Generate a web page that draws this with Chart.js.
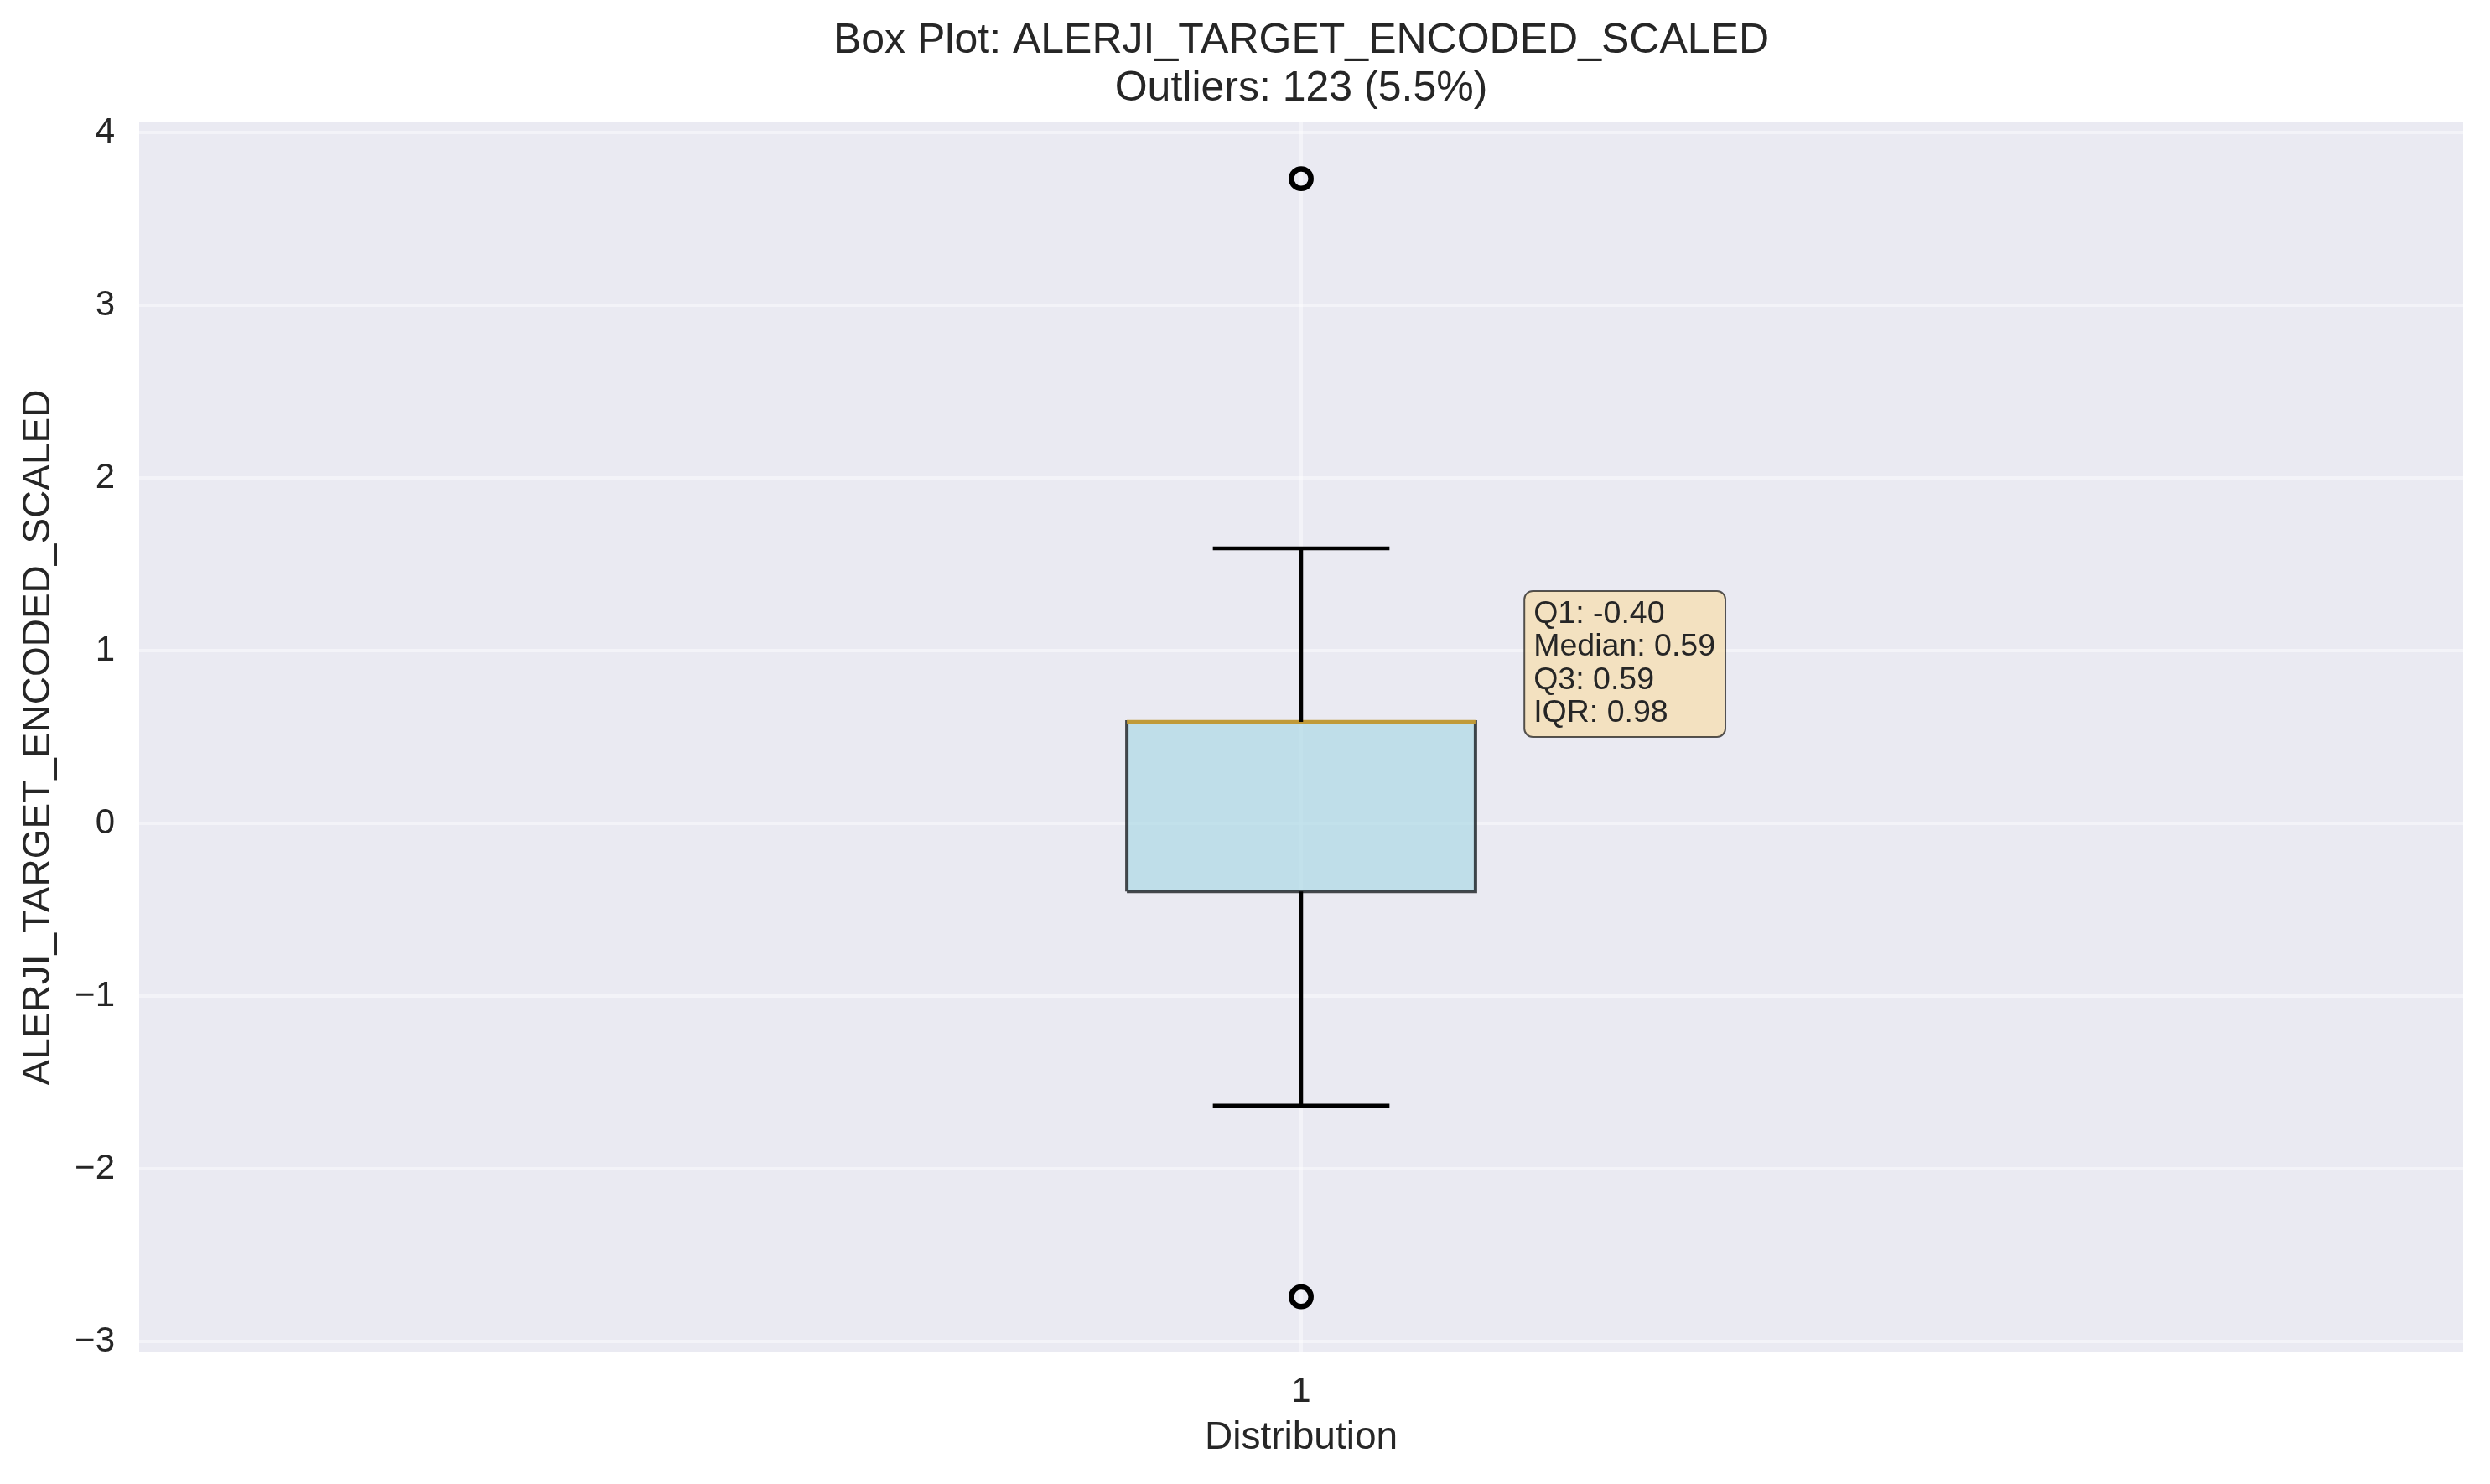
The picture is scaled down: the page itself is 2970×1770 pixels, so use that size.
<!DOCTYPE html>
<html><head><meta charset="utf-8">
<script src="https://cdn.jsdelivr.net/npm/chart.js@4.4.1/dist/chart.umd.min.js"></script>
<style>html,body{margin:0;padding:0;background:#fff;}#wrap{width:2970px;height:1770px;}</style>
</head><body><div id="wrap"><canvas id="c" width="2970" height="1770"></canvas></div>
<script>
// ---- data ----
const categories = ['1'];
const categoryPositions = [1];
const q1Values = [-0.395];
const medianValues = [0.587];
const q3Values = [0.587];
const lowerWhiskers = [-1.635];
const upperWhiskers = [1.592];
const outlierValues = [3.732, -2.741];
const yTickValues = [-3, -2, -1, 0, 1, 2, 3, 4];
const titleLines = ['Box Plot: ALERJI_TARGET_ENCODED_SCALED', 'Outliers: 123 (5.5%)'];
const statLines = ['Q1: -0.40', 'Median: 0.59', 'Q3: 0.59', 'IQR: 0.98'];
const yAxisTitle = 'ALERJI_TARGET_ENCODED_SCALED';
const xAxisTitle = 'Distribution';

// ---- geometry/style (not data) ----
const BOX_HALF = 0.075, CAP_HALF = 0.038;
const FONT = '"Liberation Sans", Arial, sans-serif';
const TXT = '#262626';

const boxPts = [], medPts = [], whiskPts = [], capPts = [], outPts = [];
categoryPositions.forEach((x, i) => {
  const q1 = q1Values[i], q3 = q3Values[i];
  boxPts.push({x: x - BOX_HALF, y: q1}, {x: x + BOX_HALF, y: q1}, {x: x + BOX_HALF, y: q3}, {x: x - BOX_HALF, y: q3}, {x: x - BOX_HALF, y: q1});
  medPts.push({x: x - BOX_HALF, y: medianValues[i]}, {x: x + BOX_HALF, y: medianValues[i]});
  whiskPts.push({x: x, y: q1}, {x: x, y: lowerWhiskers[i]}, {x: x, y: null}, {x: x, y: q3}, {x: x, y: upperWhiskers[i]});
  capPts.push({x: x - CAP_HALF, y: lowerWhiskers[i]}, {x: x + CAP_HALF, y: lowerWhiskers[i]}, {x: x, y: null},
              {x: x - CAP_HALF, y: upperWhiskers[i]}, {x: x + CAP_HALF, y: upperWhiskers[i]});
  outlierValues.forEach(v => outPts.push({x: x, y: v}));
});

const bgPlugin = {
  id: 'bg',
  beforeDraw(chart) {
    const {ctx, chartArea: a} = chart;
    ctx.save();
    ctx.fillStyle = '#ffffff';
    ctx.fillRect(0, 0, chart.width, chart.height);
    ctx.fillStyle = '#eaeaf2';
    ctx.fillRect(a.left, a.top, a.right - a.left, a.bottom - a.top);
    ctx.restore();
  }
};

const titlePlugin = {
  id: 'mtitle',
  afterDraw(chart) {
    const {ctx, chartArea: a} = chart;
    ctx.save();
    ctx.font = '50px ' + FONT;
    ctx.fillStyle = TXT;
    ctx.textAlign = 'center';
    ctx.textBaseline = 'alphabetic';
    const cx = (a.left + a.right) / 2;
    ctx.fillText(titleLines[0], cx, a.top - 83);
    ctx.fillText(titleLines[1], cx, a.top - 26);
    ctx.restore();
  }
};

const statsPlugin = {
  id: 'stats',
  afterDatasetsDraw(chart) {
    const {ctx, scales: {x, y}} = chart;
    const tx = x.getPixelForValue(1.1);
    const top = y.getPixelForValue(1.345);
    ctx.save();
    ctx.font = '37.5px ' + FONT;
    let w = 0;
    statLines.forEach(s => { w = Math.max(w, ctx.measureText(s).width); });
    const left = tx - 11, right = tx + w + 12, bottom = top + 174;
    const r = 10;
    ctx.beginPath();
    ctx.moveTo(left + r, top);
    ctx.lineTo(right - r, top);
    ctx.arcTo(right, top, right, top + r, r);
    ctx.lineTo(right, bottom - r);
    ctx.arcTo(right, bottom, right - r, bottom, r);
    ctx.lineTo(left + r, bottom);
    ctx.arcTo(left, bottom, left, bottom - r, r);
    ctx.lineTo(left, top + r);
    ctx.arcTo(left, top, left + r, top, r);
    ctx.closePath();
    ctx.fillStyle = 'rgba(245,222,179,0.8)';
    ctx.fill();
    ctx.lineWidth = 2;
    ctx.strokeStyle = 'rgba(0,0,0,0.65)';
    ctx.stroke();
    ctx.fillStyle = TXT;
    ctx.textAlign = 'left';
    ctx.textBaseline = 'alphabetic';
    statLines.forEach((s, i) => ctx.fillText(s, tx, top + 38 + i * 39.5));
    ctx.restore();
  }
};

const gridColor = 'rgba(255,255,255,0.45)';

new Chart(document.getElementById('c'), {
  type: 'line',
  data: {
    datasets: [
      {label: 'outliers', data: outPts, showLine: false, pointRadius: 11.7, pointHoverRadius: 11.7,
       pointBorderWidth: 6.5, pointBorderColor: '#000', pointBackgroundColor: 'rgba(0,0,0,0)', order: 0},
      {label: 'whiskers', data: whiskPts, borderColor: '#000', borderWidth: 4.5, pointRadius: 0, spanGaps: false, order: 1},
      {label: 'caps', data: capPts, borderColor: '#000', borderWidth: 4.5, pointRadius: 0, spanGaps: false, order: 1},
      {label: 'median', data: medPts, borderColor: '#c09a38', borderWidth: 4.5, pointRadius: 0, order: 2},
      {label: 'box', data: boxPts, borderColor: 'rgba(20,24,28,0.78)', borderWidth: 4, pointRadius: 0,
       backgroundColor: 'rgba(173,216,230,0.7)', fill: 'shape', tension: 0, order: 3}
    ]
  },
  options: {
    responsive: false,
    animation: false,
    devicePixelRatio: 1,
    layout: {padding: {top: 146, right: 32, bottom: 0, left: 0}},
    plugins: {legend: {display: false}, tooltip: {enabled: false}, title: {display: false}},
    scales: {
      x: {
        type: 'linear', min: 0.5, max: 1.5,
        afterBuildTicks: s => { s.ticks = categoryPositions.map(v => ({value: v})); },
        afterFit: s => { s.height = 157; },
        ticks: {callback: (v) => { const i = categoryPositions.indexOf(v); return i >= 0 ? categories[i] : ''; },
                font: {family: FONT, size: 42}, color: TXT, padding: 22, maxRotation: 0},
        grid: {color: gridColor, lineWidth: 4, drawTicks: false},
        border: {display: false},
        title: {display: true, text: xAxisTitle, font: {family: FONT, size: 46}, color: TXT, padding: {top: 0, bottom: 27}}
      },
      y: {
        type: 'linear', min: -3.063, max: 4.058,
        afterBuildTicks: s => { s.ticks = yTickValues.map(v => ({value: v})); },
        afterFit: s => { s.width = 166; },
        ticks: {callback: v => String(v).replace('-', '\u2212'), font: {family: FONT, size: 42}, color: TXT, padding: 29},
        grid: {color: gridColor, lineWidth: 4, drawTicks: false},
        border: {display: false},
        title: {display: true, text: yAxisTitle, font: {family: FONT, size: 46}, color: TXT, padding: {top: 19, bottom: 0}}
      }
    }
  },
  plugins: [bgPlugin, titlePlugin, statsPlugin]
});
</script></body></html>
